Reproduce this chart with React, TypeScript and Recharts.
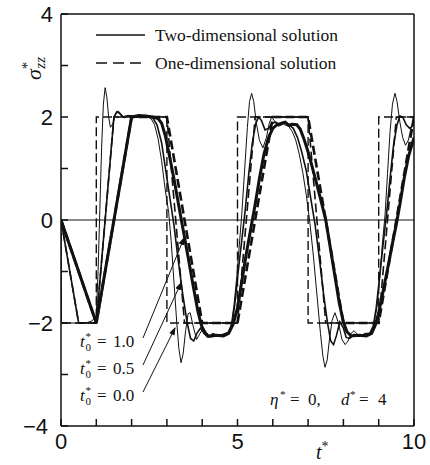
import React from 'react';
import {
  LineChart,
  Line,
  XAxis,
  YAxis,
  ReferenceLine,
} from 'recharts';

// t* values on the axis
const xTicks = [0, 1, 2, 3, 4, 5, 6, 7, 8, 9, 10];
const yTicks = [-4, -3, -2, -1, 0, 1, 2, 3, 4];

// one-dimensional solution (dashed), [t*, sigma*]
const oneD00: [number, number][] = [
  [0, 0], [0, -2], [1, -2], [1, 2], [3, 2], [3, -2], [5, -2], [5, 2],
  [7, 2], [7, -2], [9, -2], [9, 2], [10, 2],
];
const oneD05: [number, number][] = [
  [0, 0], [0.5, -2], [1, -2], [1.5, 2], [3, 2], [3.5, -2], [5, -2], [5.5, 2],
  [7, 2], [7.5, -2], [9, -2], [9.5, 2], [10, 2],
];
const oneD10: [number, number][] = [
  [0, 0], [1, -2], [2, 2], [3, 2], [4, -2], [5, -2], [6, 2], [7, 2],
  [8, -2], [9, -2], [10, 2],
];

// two-dimensional solution (solid)
const twoD00: [number, number][] = [
  [0, 0], [0.01, -2], [0.7, -2], [0.88, -1.96], [1.0, -1.85], [1.05, -1.0],
  [1.1, 0.2], [1.15, 1.4], [1.2, 2.25], [1.25, 2.57], [1.3, 2.38], [1.35, 2.0],
  [1.4, 1.8], [1.46, 1.86], [1.54, 2.04], [1.62, 2.12], [1.7, 2.06], [1.8, 1.98],
  [1.9, 2.02], [2.0, 2.03], [2.2, 2.0], [2.4, 2.01], [2.55, 1.97], [2.65, 1.85],
  [2.75, 1.58], [2.85, 1.15], [2.95, 0.6], [3.05, 0.15], [3.12, -0.4], [3.2, -1.2],
  [3.28, -2.0], [3.34, -2.5], [3.4, -2.77], [3.46, -2.6], [3.53, -2.15], [3.6, -1.82],
  [3.66, -1.8], [3.74, -2.05], [3.84, -2.32], [3.94, -2.2], [4.03, -2.09], [4.12, -2.18],
  [4.2, -2.25], [4.3, -2.2], [4.45, -2.24], [4.6, -2.22], [4.72, -2.2], [4.82, -2.05],
  [4.9, -1.65], [4.98, -1.1], [5.05, -0.5], [5.12, 0.1], [5.2, 0.95], [5.28, 1.8],
  [5.34, 2.3], [5.4, 2.46], [5.46, 2.3], [5.53, 1.9], [5.62, 1.55], [5.72, 1.4],
  [5.82, 1.6], [5.9, 1.88], [5.97, 2.0], [6.05, 1.92], [6.15, 1.82], [6.3, 1.86],
  [6.45, 1.82], [6.55, 1.72], [6.65, 1.55], [6.75, 1.28], [6.85, 0.92], [6.95, 0.48],
  [7.05, -0.05], [7.15, -0.7], [7.25, -1.45], [7.35, -2.2], [7.42, -2.65], [7.48, -2.86],
  [7.54, -2.72], [7.6, -2.35], [7.68, -1.95], [7.76, -1.8], [7.86, -2.0], [7.96, -2.32],
  [8.05, -2.42], [8.13, -2.35], [8.22, -2.2], [8.3, -2.15], [8.4, -2.22], [8.5, -2.25],
  [8.62, -2.2], [8.75, -2.2], [8.85, -2.05], [8.95, -1.7], [9.03, -1.1], [9.1, -0.5],
  [9.18, 0.1], [9.25, 0.9], [9.32, 1.7], [9.39, 2.25], [9.46, 2.46], [9.52, 2.3],
  [9.6, 1.9], [9.68, 1.6], [9.76, 1.45], [9.84, 1.55], [9.92, 1.8], [10, 1.98],
];
const twoD05: [number, number][] = [
  [0, 0], [0.5, -2], [1.0, -2], [1.5, 2], [1.58, 2.1], [1.66, 2.07], [1.75, 2.0],
  [1.9, 2.03], [2.1, 2.0], [2.3, 2.02], [2.5, 2.0], [2.6, 1.98], [2.72, 1.85],
  [2.85, 1.5], [2.97, 0.95], [3.08, 0.45], [3.2, -0.1], [3.32, -0.78], [3.45, -1.45],
  [3.57, -1.98], [3.67, -2.3], [3.76, -2.35], [3.85, -2.2], [3.95, -2.1], [4.05, -2.2],
  [4.15, -2.27], [4.3, -2.22], [4.45, -2.25], [4.6, -2.22], [4.75, -2.18], [4.85, -2.0],
  [4.93, -1.6], [5.02, -1.0], [5.12, -0.4], [5.22, 0.2], [5.32, 0.9], [5.42, 1.5],
  [5.52, 1.88], [5.6, 2.0], [5.68, 1.93], [5.78, 1.75], [5.88, 1.78], [5.98, 1.88],
  [6.08, 1.9], [6.2, 1.85], [6.32, 1.9], [6.45, 1.85], [6.58, 1.78], [6.7, 1.6],
  [6.82, 1.32], [6.95, 0.95], [7.08, 0.4], [7.2, -0.1], [7.32, -0.75], [7.44, -1.45],
  [7.55, -2.0], [7.64, -2.35], [7.72, -2.42], [7.8, -2.25], [7.9, -1.98], [8.0, -2.1],
  [8.08, -2.28], [8.18, -2.3], [8.3, -2.22], [8.45, -2.25], [8.6, -2.22], [8.75, -2.2],
  [8.85, -2.05], [8.93, -1.7], [9.02, -1.15], [9.12, -0.5], [9.22, 0.1], [9.32, 0.8],
  [9.42, 1.45], [9.52, 1.85], [9.6, 2.02], [9.68, 2.0], [9.78, 1.85], [9.88, 1.78],
  [10, 1.85],
];
const twoD10: [number, number][] = [
  [0, 0], [1.0, -2], [2.0, 2], [2.2, 2.03], [2.4, 2.02], [2.6, 2.0], [2.75, 1.97],
  [2.85, 1.88], [2.95, 1.65], [3.05, 1.32], [3.2, 0.8], [3.33, 0.3], [3.45, -0.15],
  [3.6, -0.72], [3.75, -1.3], [3.88, -1.78], [3.98, -2.05], [4.08, -2.2], [4.2, -2.26],
  [4.4, -2.24], [4.6, -2.25], [4.75, -2.2], [4.88, -2.02], [5.0, -1.7], [5.12, -1.2],
  [5.25, -0.65], [5.4, -0.08], [5.5, 0.3], [5.62, 0.8], [5.75, 1.28], [5.88, 1.6],
  [6.0, 1.78], [6.12, 1.85], [6.25, 1.88], [6.35, 1.9], [6.45, 1.84], [6.55, 1.86],
  [6.68, 1.85], [6.78, 1.76], [6.88, 1.58], [7.0, 1.32], [7.12, 1.02], [7.25, 0.68],
  [7.37, 0.36], [7.5, 0.0], [7.62, -0.5], [7.75, -1.05], [7.88, -1.6], [8.0, -1.98],
  [8.1, -2.17], [8.22, -2.25], [8.45, -2.24], [8.65, -2.25], [8.8, -2.2], [8.9, -2.05],
  [9.0, -1.8], [9.12, -1.4], [9.25, -0.95], [9.4, -0.42], [9.5, -0.08], [9.6, 0.3],
  [9.72, 0.8], [9.85, 1.25], [10, 1.6],
];

const toRows = (pts: [number, number][]) => pts.map(([t, v]) => ({ t, v }));

const serif = "'Liberation Serif', 'DejaVu Serif', serif";
const sans = "'Liberation Sans', Arial, sans-serif";
const ink = '#111';

const fmtX = (v: number) => (v % 5 === 0 ? String(v) : '');
const blank = () => '';

// left tick labels: only even values, -4 nudged left like the original
const YTick = (props: any) => {
  const { x, y, payload } = props;
  const v = payload.value as number;
  if (v % 2 !== 0) return null;
  const label = v < 0 ? '\u2212' + Math.abs(v) : String(v);
  return (
    <text
      x={v === -4 ? x - 5 : x}
      y={y}
      dy="0.355em"
      textAnchor="end"
      fontSize={22}
      fontFamily={sans}
      fill={ink}
    >
      {label}
    </text>
  );
};

const App: React.FC = () => {
  const tick = { fontSize: 22, fill: ink, fontFamily: sans };

  return (
    <div
      style={{
        position: 'absolute',
        left: 0,
        top: 0,
        width: 430,
        height: 465,
        background: '#fff',
      }}
    >
      <LineChart
        width={430}
        height={465}
        margin={{ top: 0, right: 0, bottom: 0, left: 0 }}
      >
        <XAxis
          dataKey="t"
          type="number"
          domain={[0, 10]}
          ticks={xTicks}
          tickFormatter={fmtX}
          height={39}
          tickSize={-7}
          tickMargin={14}
          tick={tick}
          stroke={ink}
          strokeWidth={1.5}
          allowDataOverflow
        />
        <XAxis
          xAxisId="top"
          orientation="top"
          type="number"
          domain={[0, 10]}
          ticks={xTicks}
          tickFormatter={blank}
          height={14}
          tickSize={-7}
          stroke={ink}
          strokeWidth={1.5}
        />
        <YAxis
          type="number"
          domain={[-4, 4]}
          ticks={yTicks}
          width={61}
          tickSize={-7}
          tickMargin={15}
          tick={<YTick />}
          stroke={ink}
          strokeWidth={1.5}
          allowDataOverflow
        />
        <YAxis
          yAxisId="right"
          orientation="right"
          type="number"
          domain={[-4, 4]}
          ticks={yTicks}
          tickFormatter={blank}
          width={16}
          tickSize={-7}
          stroke={ink}
          strokeWidth={1.5}
        />
        <ReferenceLine y={0} stroke={ink} strokeWidth={1} />

        {/* two-dimensional solution */}
        <Line data={toRows(twoD00)} dataKey="v" type="linear" stroke={ink} strokeWidth={1} dot={false} isAnimationActive={false} />
        <Line data={toRows(twoD05)} dataKey="v" type="linear" stroke={ink} strokeWidth={1.6} dot={false} isAnimationActive={false} />
        <Line data={toRows(twoD10)} dataKey="v" type="linear" stroke={ink} strokeWidth={3} dot={false} isAnimationActive={false} />

        {/* one-dimensional solution */}
        <Line data={toRows(oneD00)} dataKey="v" type="linear" stroke={ink} strokeWidth={1.4} strokeDasharray="9 4" dot={false} isAnimationActive={false} />
        <Line data={toRows(oneD05)} dataKey="v" type="linear" stroke={ink} strokeWidth={1.6} strokeDasharray="9 4" dot={false} isAnimationActive={false} />
        <Line data={toRows(oneD10)} dataKey="v" type="linear" stroke={ink} strokeWidth={2.6} strokeDasharray="9 4" dot={false} isAnimationActive={false} />
      </LineChart>

      <svg
        width={430}
        height={465}
        style={{ position: 'absolute', left: 0, top: 0, pointerEvents: 'none' }}
      >
        <defs>
          <marker id="arr" markerWidth="8" markerHeight="6" refX="7" refY="3" orient="auto" markerUnits="userSpaceOnUse">
            <path d="M0,0 L8,3 L0,6 z" fill={ink} />
          </marker>
        </defs>

        {/* legend */}
        <line x1={96} x2={145} y1={35} y2={35} stroke={ink} strokeWidth={1.6} />
        <line x1={96} x2={145} y1={63} y2={63} stroke={ink} strokeWidth={1.6} strokeDasharray="11 6" />
        <text x={155} y={41} fontFamily={serif} fontSize={17.5} fill={ink}>
          Two-dimensional solution
        </text>
        <text x={155} y={69} fontFamily={serif} fontSize={17.5} fill={ink}>
          One-dimensional solution
        </text>

        {/* t0 labels with arrows */}
        {[
          { y: 347, label: '1.0', x2: 184, y2: 238 },
          { y: 374, label: '0.5', x2: 181, y2: 283 },
          { y: 401, label: '0.0', x2: 175, y2: 328 },
        ].map((a) => (
          <g key={a.label}>
            <text x={80} y={a.y} fontFamily={serif} fontSize={17} fontStyle="italic" fill={ink}>t</text>
            <text x={85.5} y={a.y - 7} fontFamily={serif} fontSize={11} fill={ink}>*</text>
            <text x={85.5} y={a.y + 4} fontFamily={serif} fontSize={11} fill={ink}>0</text>
            <text x={97} y={a.y} fontFamily={serif} fontSize={17} fill={ink}>=</text>
            <text x={113} y={a.y} fontFamily={serif} fontSize={17} fill={ink}>{a.label}</text>
            <line x1={143} y1={a.y - 9} x2={a.x2} y2={a.y2} stroke={ink} strokeWidth={1} markerEnd="url(#arr)" />
          </g>
        ))}

        {/* parameters */}
        <text y={405} fontFamily={serif} fontSize={17} fill={ink}>
          <tspan x={270} fontStyle="italic">η</tspan>
          <tspan x={280} dy={-7} fontSize={11}>*</tspan>
          <tspan x={290} dy={7}>=</tspan>
          <tspan x={308}>0,</tspan>
          <tspan x={341} fontStyle="italic">d</tspan>
          <tspan x={350} dy={-7} fontSize={11}>*</tspan>
          <tspan x={359} dy={7}>=</tspan>
          <tspan x={378}>4</tspan>
        </text>

        {/* axis titles */}
        <text transform="translate(41,80) rotate(-90)" fontFamily={serif} fontSize={22} fontStyle="italic" fill={ink}>
          σ
          <tspan dy={-9} fontSize={15} fontStyle="normal">*</tspan>
          <tspan dx={-7} dy={13} fontSize={15}>zz</tspan>
        </text>
        <text x={316} y={459} fontFamily={serif} fontSize={20} fontStyle="italic" fill={ink}>
          t<tspan dy={-8} fontSize={14} fontStyle="normal">*</tspan>
        </text>
      </svg>
    </div>
  );
};

export default App;
